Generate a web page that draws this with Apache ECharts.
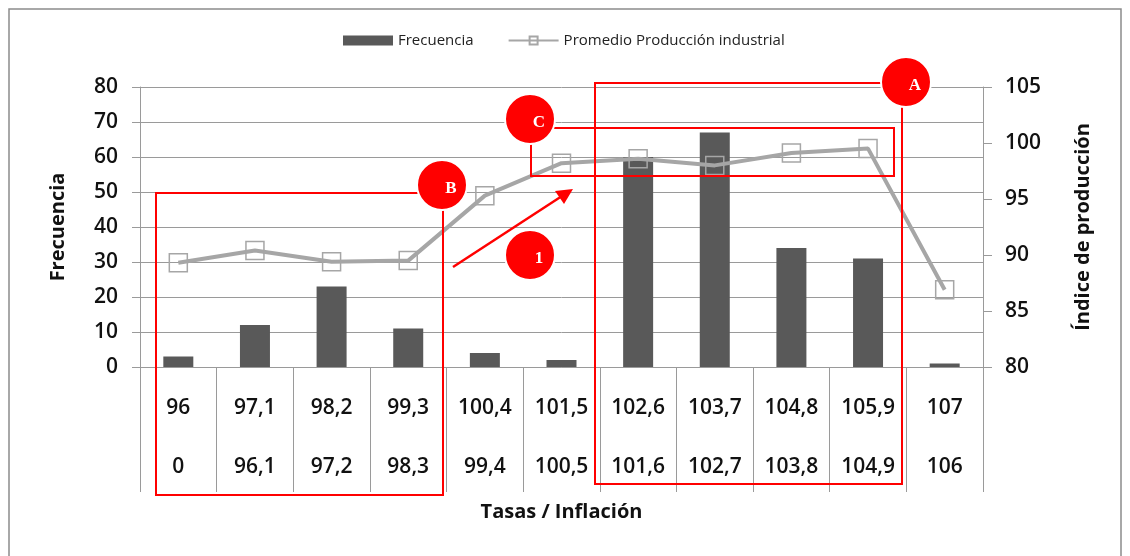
<!DOCTYPE html>
<html>
<head>
<meta charset="utf-8">
<script src="https://cdn.jsdelivr.net/npm/echarts@6/dist/echarts.min.js"></script>
<style>
  html, body { margin: 0; padding: 0; background: #fff; }
  #chart { width: 1130px; height: 556px; }
</style>
</head>
<body>
<div id="chart"></div>
<script>
// Upper / lower class limits shown in the table under the x axis
var upperLimits = ['96', '97,1', '98,2', '99,3', '100,4', '101,5', '102,6', '103,7', '104,8', '105,9', '107'];
var lowerLimits = ['0', '96,1', '97,2', '98,3', '99,4', '100,5', '101,6', '102,7', '103,8', '104,9', '106'];

var frecuencia = [3, 12, 23, 11, 4, 2, 60, 67, 34, 31, 1];
var produccion = [89.3, 90.4, 89.4, 89.5, 95.3, 98.2, 98.6, 98.0, 99.1, 99.5, 86.9];

var leftTicks = { min: 0, max: 80, step: 10 };
var rightTicks = { min: 80, max: 105, step: 5 };

(function() {
  var gray = '#9a9a9a';
  var ink = '#111';
  var red = '#ff0000';
  var font = 'Open Sans';

  var chart = echarts.init(document.getElementById('chart'), null, { renderer: 'canvas' });

  function circle(cx, cy, label) {
    return [
      {
        type: 'circle',
        shape: { cx: cx, cy: cy, r: 25 },
        style: { fill: red, stroke: '#fff', lineWidth: 2 },
        z: 120
      },
      {
        type: 'text',
        x: cx + 9, y: cy + 4,
        style: {
          text: label, fill: '#fff', font: 'bold 17px "Liberation Serif"',
          align: 'center', verticalAlign: 'middle'
        },
        z: 121
      }
    ];
  }

  function box(x1, y1, x2, y2) {
    return {
      type: 'rect',
      shape: { x: x1, y: y1, width: x2 - x1, height: y2 - y1 },
      style: { fill: 'none', stroke: red, lineWidth: 2 },
      z: 110
    };
  }

  var annotations = [
    {
      type: 'rect',
      shape: { x: 9, y: 9, width: 1112, height: 600 },
      style: { fill: 'none', stroke: '#8c8c8c', lineWidth: 1.5 },
      z: 1
    },
    box(156, 193, 443, 495),
    box(595, 83, 902, 484),
    box(531, 128, 894, 176),
    {
      type: 'line',
      shape: { x1: 453, y1: 267, x2: 562, y2: 196 },
      style: { stroke: red, lineWidth: 2.5 },
      z: 110
    },
    {
      type: 'polygon',
      shape: { points: [[573, 189], [564, 204], [555, 191]] },
      style: { fill: red },
      z: 110
    }
  ]
    .concat(circle(442, 185, 'B'))
    .concat(circle(906, 82, 'A'))
    .concat(circle(530, 119, 'C'))
    .concat(circle(530, 255, '1'));

  var tickLabel = { fontSize: 21, fontWeight: 600, color: ink, fontFamily: font };

  chart.setOption({
    animation: false,
    textStyle: { fontFamily: font },
    legend: {
      left: 343,
      top: 33,
      padding: 0,
      itemWidth: 50,
      itemHeight: 10,
      itemGap: 34,
      textStyle: { fontSize: 15, color: '#222', fontFamily: font },
      data: [
        { name: 'Frecuencia', icon: 'rect' },
        { name: 'Promedio Producción industrial' }
      ]
    },
    grid: { left: 140, right: 147, top: 87, bottom: 189 },
    xAxis: {
      type: 'category',
      data: upperLimits,
      name: 'Tasas / Inflación',
      nameLocation: 'middle',
      nameGap: 135,
      nameTextStyle: { fontSize: 20, fontWeight: 'bold', color: ink, fontFamily: font },
      axisLine: { lineStyle: { color: gray } },
      axisTick: { show: true, interval: 0, length: 125, lineStyle: { color: gray } },
      axisLabel: {
        interval: 0,
        margin: 12,
        formatter: function(v, i) {
          return '{a|' + v + '}\n{b|' + lowerLimits[i] + '}';
        },
        rich: {
          a: Object.assign({ lineHeight: 59 }, tickLabel),
          b: Object.assign({ lineHeight: 59 }, tickLabel)
        }
      }
    },
    yAxis: [
      {
        type: 'value',
        min: leftTicks.min,
        max: leftTicks.max,
        interval: leftTicks.step,
        name: 'Frecuencia',
        nameLocation: 'middle',
        nameRotate: 90,
        nameGap: 72,
        nameTextStyle: { fontSize: 20, fontWeight: 'bold', color: ink, fontFamily: font },
        axisLine: { show: true, lineStyle: { color: gray } },
        axisTick: { show: true, length: 8, lineStyle: { color: gray } },
        axisLabel: Object.assign({ margin: 22 }, tickLabel),
        splitLine: { lineStyle: { color: gray, width: 1 } }
      },
      {
        type: 'value',
        min: rightTicks.min,
        max: rightTicks.max,
        interval: rightTicks.step,
        position: 'right',
        name: 'Índice de producción',
        nameLocation: 'middle',
        nameRotate: 90,
        nameGap: 90,
        nameTextStyle: { fontSize: 20, fontWeight: 'bold', color: ink, fontFamily: font },
        axisLine: { show: true, lineStyle: { color: gray } },
        axisTick: { show: true, length: 9, lineStyle: { color: gray } },
        axisLabel: Object.assign({ margin: 22 }, tickLabel),
        splitLine: { show: false }
      }
    ],
    series: [
      {
        name: 'Frecuencia',
        type: 'bar',
        data: frecuencia,
        barWidth: 30,
        itemStyle: { color: '#595959' }
      },
      {
        name: 'Promedio Producción industrial',
        type: 'line',
        yAxisIndex: 1,
        data: produccion,
        symbol: 'rect',
        symbolSize: 18,
        lineStyle: { color: '#a6a6a6', width: 4 },
        itemStyle: { color: 'rgba(255,255,255,0)', borderColor: '#a6a6a6', borderWidth: 1.5 },
        z: 5
      }
    ],
    graphic: annotations
  });
})();
</script>
</body>
</html>
